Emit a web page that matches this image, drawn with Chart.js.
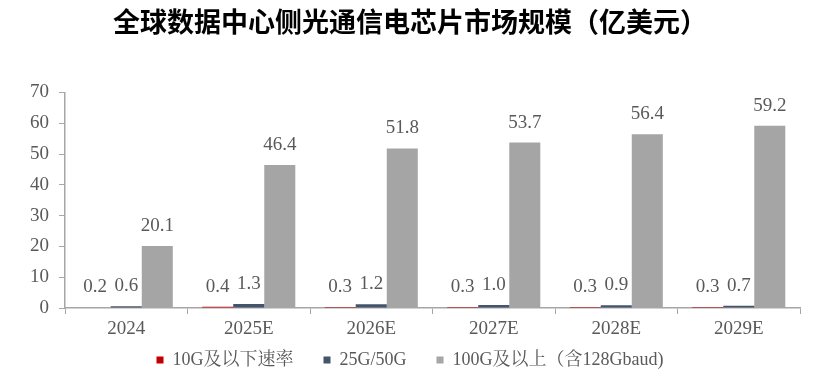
<!DOCTYPE html>
<html>
<head>
<meta charset="utf-8">
<script src="https://cdn.jsdelivr.net/npm/chart.js@4"></script>
<style>
html,body{margin:0;padding:0;background:#fff;}
#wrap{width:831px;height:380px;position:relative;}
</style>
</head>
<body>
<div id="wrap"><canvas id="c" width="831" height="380"></canvas></div>
<script>
const categories = ["2024","2025E","2026E","2027E","2028E","2029E"];
const seriesNames = ["10G及以下速率","25G/50G","100G及以上（含128Gbaud)"];
const s10G = [0.2,0.4,0.3,0.3,0.3,0.3];
const s25G = [0.6,1.3,1.2,1.0,0.9,0.7];
const s100G = [20.1,46.4,51.8,53.7,56.4,59.2];
const yTicks = [0,10,20,30,40,50,60,70];

const serif = "'Liberation Serif','Times New Roman','Noto Serif CJK SC','Noto Sans CJK SC',serif";
const gray = "#595959";

const labelPlugin = {
  id: 'valueLabels',
  afterDatasetsDraw(chart) {
    const ctx = chart.ctx;
    ctx.save();
    ctx.font = "19px " + serif;
    ctx.fillStyle = gray;
    ctx.textAlign = 'center';
    ctx.textBaseline = 'alphabetic';
    chart.data.datasets.forEach((ds, i) => {
      const meta = chart.getDatasetMeta(i);
      meta.data.forEach((el, j) => {
        ctx.fillText(ds.data[j].toFixed(1), el.x, el.y - 15);
      });
    });
    ctx.restore();
  }
};

new Chart(document.getElementById('c'), {
  type: 'bar',
  data: {
    labels: categories,
    datasets: [
      {label: seriesNames[0], data: s10G, backgroundColor: '#C00000'},
      {label: seriesNames[1], data: s25G, backgroundColor: '#44546A'},
      {label: seriesNames[2], data: s100G, backgroundColor: '#A5A5A5'}
    ]
  },
  options: {
    responsive: false,
    animation: false,
    devicePixelRatio: 1,
    layout: {padding: {left: 20, right: 31, top: 6, bottom: 1}},
    datasets: {bar: {categoryPercentage: 0.76, barPercentage: 1.0}},
    plugins: {
      title: {
        display: true,
        text: '全球数据中心侧光通信电芯片市场规模（亿美元）',
        color: '#000',
        font: {family: "'Noto Sans CJK SC',sans-serif", size: 27, weight: 'bold'},
        padding: {top: 0, bottom: 54}
      },
      legend: {
        position: 'bottom',
        title: {display: true, text: '', font: {size: 1}, padding: {top: -25, bottom: 0}},
        labels: {
          boxWidth: 7, boxHeight: 7, color: gray,
          font: {family: serif, size: 18},
          padding: 30
        }
      },
      tooltip: {enabled: false}
    },
    scales: {
      x: {
        offset: true,
        grid: {display: true, drawOnChartArea: false, drawTicks: true, tickLength: 6, color: '#A6A6A6', offset: true},
        border: {color: '#A6A6A6', width: 1.5},
        ticks: {color: gray, font: {family: serif, size: 19}, padding: 4}
      },
      y: {
        min: 0, max: 70,
        afterBuildTicks(axis) { axis.ticks = yTicks.map(v => ({value: v})); },
        grid: {display: true, drawOnChartArea: false, drawTicks: true, tickLength: 6, color: '#A6A6A6'},
        border: {color: '#A6A6A6', width: 1.5},
        ticks: {color: gray, font: {family: serif, size: 19}, padding: 10}
      }
    }
  },
  plugins: [labelPlugin]
});
</script>
</body>
</html>
